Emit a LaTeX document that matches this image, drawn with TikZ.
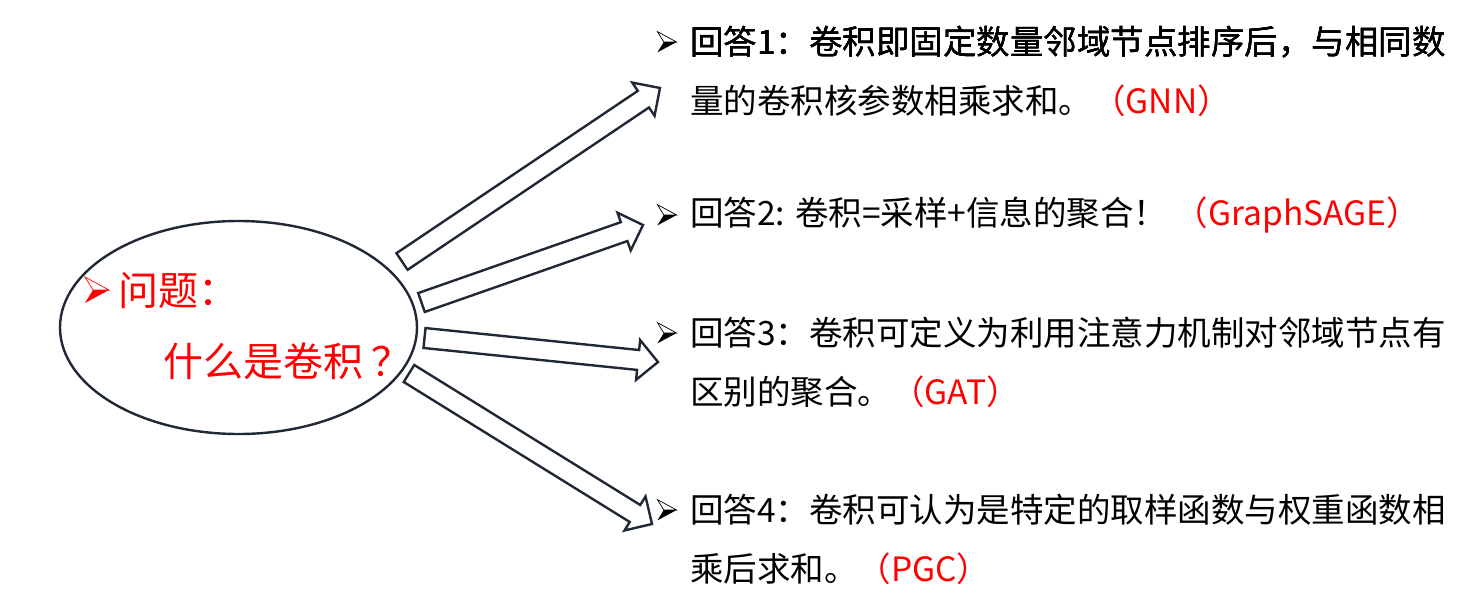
\documentclass[tikz,border=0pt]{standalone}
\usepackage{fontspec}
\setmainfont{Noto Sans CJK SC}
\usetikzlibrary{calc,shapes.geometric}

\definecolor{linecol}{RGB}{32,40,54}

\tikzset{
  blockarrow/.style={draw=linecol,line width=2.4pt,fill=white,line join=miter},
  answer/.style={anchor=west,inner sep=0pt,font=\fontsize{33.5}{40}\selectfont},
  question/.style={anchor=west,inner sep=0pt,text=red,font=\fontsize{40}{48}\selectfont}
}

% hollow block arrow from #1 to #2
\newcommand{\blockarrow}[2]{%
  \coordinate (#1-b) at ($(#2)!20pt!(#1)$);
  \draw[blockarrow] ($(#1)!10pt!-90:(#2)$) -- ($(#1-b)!10pt!-90:(#2)$)
    -- ($(#1-b)!20pt!-90:(#2)$) -- (#2) -- ($(#1-b)!20pt!90:(#2)$)
    -- ($(#1-b)!10pt!90:(#2)$) -- ($(#1)!10pt!90:(#2)$) -- cycle;}

% list bullet, #1 centre, #2 colour, #3 size
\newcommand{\bulletmark}[3]{%
  \begin{scope}[shift={#1},scale=#3]
    \draw[#2,line width=0.7pt,fill=white] (-12,-13) -- (12,0) -- (-4,0) -- cycle;
    \fill[#2] (-12,13) -- (12,0) -- (-4,0) -- cycle;
  \end{scope}}

\begin{document}
\begin{tikzpicture}[x=1pt,y=-1pt]
\useasboundingbox (0,0) rectangle (1463,611);

%Question
\node[draw=linecol,line width=2.4pt,ellipse,minimum width=357pt,minimum height=213pt,inner sep=0pt] (q) at (238.5,327.5) {};
\bulletmark{(97,290)}{red}{1}
\node[question] (q1) at (118,291) {问题：};
\node[question] (q2) at (163,361) {什么是卷积\kern8pt？};

%Arrows
\coordinate (t1) at (402,261.5);  \coordinate (h1) at (660,88);
\coordinate (t2) at (421.5,302.5); \coordinate (h2) at (643,225);
\coordinate (t3) at (424.5,338);  \coordinate (h3) at (658,362);
\coordinate (t4) at (409,373.5);  \coordinate (h4) at (652,524);
\blockarrow{t1}{h1}
\blockarrow{t2}{h2}
\blockarrow{t3}{h3}
\blockarrow{t4}{h4}

%Answers
\foreach \y in {42,215,333,510}
  \bulletmark{(667,\y)}{black}{0.8}
\node[answer] (a1) at (690,42) {回答1：卷积即固定数量邻域节点排序后，与相同数};
\node[answer] (a1b) at (690,101) {量的卷积核参数相乘求和。\textcolor{red}{（GNN）}};
\node[answer] (a2) at (690,215) {回答2: 卷积=采样+信息的聚合！\ \textcolor{red}{（GraphSAGE）}};
\node[answer] (a3) at (690,333) {回答3：卷积可定义为利用注意力机制对邻域节点有};
\node[answer] (a3b) at (690,392) {区别的聚合。\textcolor{red}{（GAT）}};
\node[answer] (a4) at (690,510) {回答4：卷积可认为是特定的取样函数与权重函数相};
\node[answer] (a4b) at (690,569) {乘后求和。\textcolor{red}{（PGC）}};
\end{tikzpicture}
\end{document}
